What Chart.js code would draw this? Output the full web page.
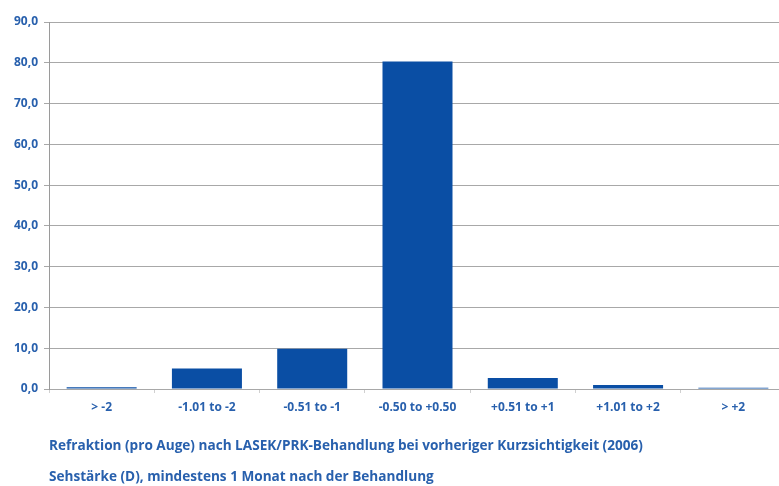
<!DOCTYPE html>
<html>
<head>
<meta charset="utf-8">
<script src="https://cdn.jsdelivr.net/npm/chart.js@4.4.1/dist/chart.umd.min.js"></script>
<style>
  html, body { margin: 0; padding: 0; background: #fff; overflow: hidden; }
  #wrap { position: absolute; left: 0; top: 0; width: 790px; height: 495px; }
</style>
</head>
<body>
<div id="wrap"><canvas id="chart" width="790" height="495"></canvas></div>
<script>
/* ── Data ──────────────────────────────────────────────────── */
const categories = ['> -2', '-1.01 to -2', '-0.51 to -1', '-0.50 to +0.50', '+0.51 to +1', '+1.01 to +2', '> +2'];
const percents   = [0.4, 5.0, 9.9, 80.3, 2.7, 1.0, 0.3];
const titleLines = [
  'Refraktion (pro Auge) nach LASEK/PRK-Behandlung bei vorheriger Kurzsichtigkeit (2006)',
  'Sehstärke (D), mindestens 1 Monat nach der Behandlung',
];
const yMin = 0, yMax = 90, yStep = 10;

/* ── Theme ─────────────────────────────────────────────────── */
const TEXT_BLUE = '#2860ad';
const GRID_GREY = '#a8a8a8';
const FONT      = '"Open Sans", "DejaVu Sans", sans-serif';

const ctx = document.getElementById('chart').getContext('2d');

new Chart(ctx, {
  type: 'bar',
  data: {
    labels: categories,
    datasets: [{
      data:            percents,
      backgroundColor: '#0a4ea4',
      borderWidth:     0,
      categoryPercentage: 1,
      barPercentage:   0.665,
    }],
  },
  options: {
    responsive: false,
    animation: false,
    layout: { padding: { top: 22, right: 4, left: 0, bottom: 0 } },
    plugins: {
      legend:  { display: false },
      tooltip: { enabled: false },
    },
    scales: {
      x: {
        grid:   { drawOnChartArea: false, drawTicks: true, tickLength: 4, color: '#d0d0d0' },
        border: { display: false },
        ticks:  { color: TEXT_BLUE, padding: 7, font: { family: FONT, size: 12, weight: '700' } },
        title: {
          display: true,
          text:    titleLines,
          align:   'start',
          color:   TEXT_BLUE,
          font:    { family: FONT, size: 13.6, weight: '700', lineHeight: 2.28 },
          padding: { top: 0, bottom: 2 },
        },
        afterFit: scale => { scale.height = 106; },
      },
      y: {
        min: yMin,
        max: yMax,
        grid:   { color: GRID_GREY, tickLength: 5, lineWidth: 1 },
        border: { display: true, color: '#9a9a9a' },
        ticks: {
          stepSize: yStep,
          color:    TEXT_BLUE,
          padding:  6,
          font:     { family: FONT, size: 12, weight: '700' },
          callback: v => v.toFixed(1).replace('.', ','),
        },
        afterFit: scale => { scale.width = 49; },
      },
    },
  },
});
</script>
</body>
</html>
